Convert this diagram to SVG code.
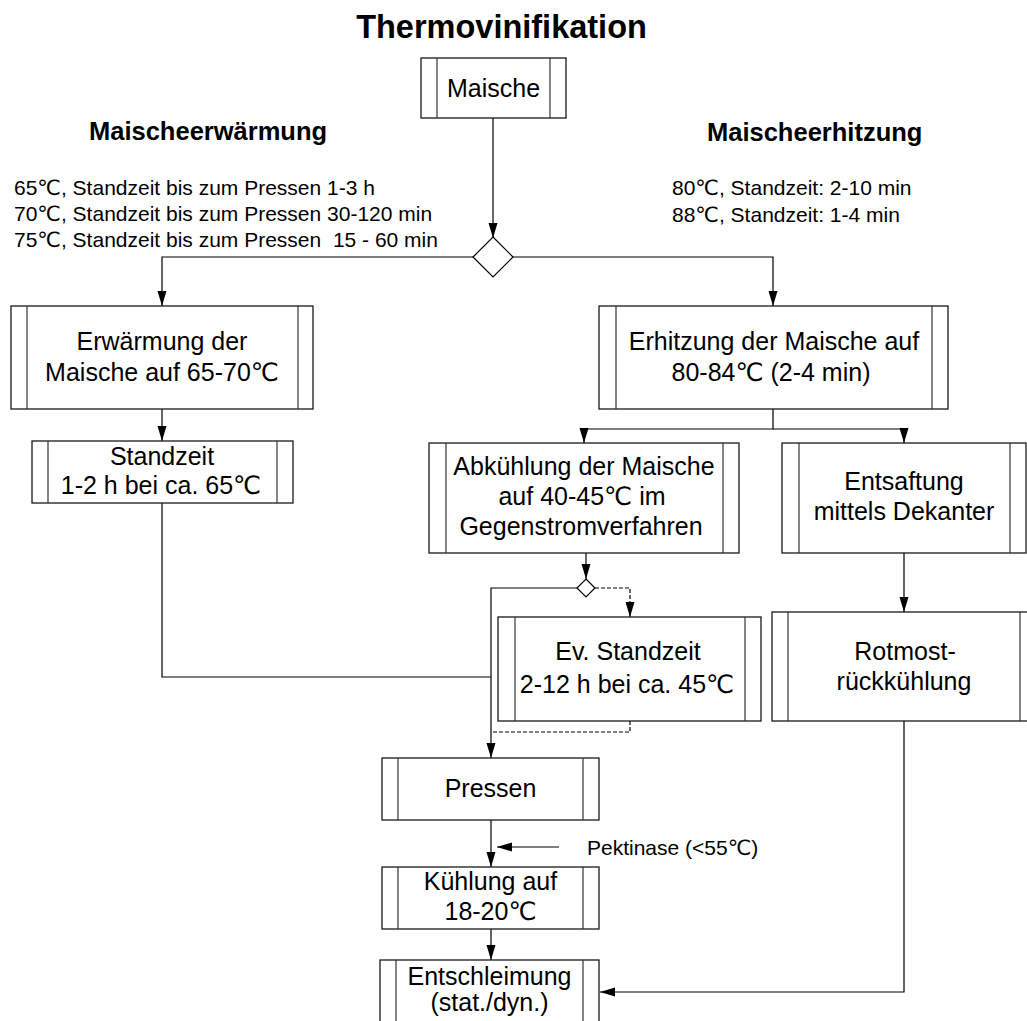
<svg xmlns="http://www.w3.org/2000/svg" width="1027" height="1021" viewBox="0 0 1027 1021">
<style>
.bx rect{fill:#fff;stroke:#1a1a1a;stroke-width:1.3}
.bx line{stroke:#333;stroke-width:1.2}
.dm{fill:#fff;stroke:#000;stroke-width:1.2}
text{font-family:"Liberation Sans",Arial,"DejaVu Sans",sans-serif;fill:#000}
.t{font-size:25px;text-anchor:middle}
.s{font-size:21px}
.h{font-size:25.5px;font-weight:bold}
.c{fill:none;stroke:#000;stroke-width:1.2}
.d{stroke-dasharray:4,2}
</style>
<defs>
<marker id="arr" markerWidth="15" markerHeight="10" refX="15" refY="5" orient="auto" markerUnits="userSpaceOnUse">
<path d="M0,0.5 L15,5 L0,9.5 z" fill="#000"/>
</marker>
</defs>

<text x="501.5" y="38" text-anchor="middle" style="font-size:32.5px;font-weight:bold">Thermovinifikation</text>
<text class="h" x="89" y="140">Maischeerwärmung</text>
<text class="h" x="707" y="141">Maischeerhitzung</text>
<text class="s" x="14" y="195">65℃, Standzeit bis zum Pressen 1-3 h</text>
<text class="s" x="14" y="221">70℃, Standzeit bis zum Pressen 30-120 min</text>
<text class="s" x="14" y="247" style="white-space:pre">75℃, Standzeit bis zum Pressen  15 - 60 min</text>
<text class="s" x="672" y="195">80℃, Standzeit: 2-10 min</text>
<text class="s" x="672" y="222">88℃, Standzeit: 1-4 min</text>
<text class="s" x="587" y="855">Pektinase (&lt;55℃)</text>

<g id="connectors">
<path class="c" d="M493,118 V238" marker-end="url(#arr)"/>
<path class="c" d="M474,257 H162 V306" marker-end="url(#arr)"/>
<path class="c" d="M513,257 H773 V306" marker-end="url(#arr)"/>
<path class="c" d="M162,409 V441" marker-end="url(#arr)"/>
<path class="c" d="M773,409 V429 H584 V443" marker-end="url(#arr)"/>
<path class="c" d="M773,429 H904 V443" marker-end="url(#arr)"/>
<path class="c" d="M586,553 V579" marker-end="url(#arr)"/>
<path class="c" d="M577,588 H491 V758" marker-end="url(#arr)"/>
<path class="c d" d="M595,588 H630 V617" marker-end="url(#arr)"/>
<path class="c d" d="M630,721 V732 H491"/>
<path class="c" d="M162,503 V677 H491"/>
<path class="c" d="M904,553 V612" marker-end="url(#arr)"/>
<path class="c" d="M904,721 V992 H600" marker-end="url(#arr)"/>
<path class="c" d="M491,820 V867" marker-end="url(#arr)"/>
<path class="c" d="M559,847 H497" marker-end="url(#arr)"/>
<path class="c" d="M491,929 V960" marker-end="url(#arr)"/>
</g>

<polygon id="decision1" class="dm" points="493,237 513,257 493,277 473,257"/>
<polygon id="decision2" class="dm" points="586,579 595,588 586,597 577,588"/>

<g id="maische" class="bx">
<rect x="421" y="58" width="145" height="60"/>
<line x1="437" y1="58" x2="437" y2="118"/><line x1="550" y1="58" x2="550" y2="118"/>
<text class="t" x="493.5" y="97">Maische</text>
</g>

<g id="erwaermung" class="bx">
<rect x="11" y="306" width="302" height="103"/>
<line x1="27" y1="306" x2="27" y2="409"/><line x1="298" y1="306" x2="298" y2="409"/>
<text class="t" x="162" y="350">Erwärmung der</text>
<text class="t" x="162" y="381">Maische auf 65-70℃</text>
</g>

<g id="standzeit" class="bx">
<rect x="32" y="441" width="261" height="62"/>
<line x1="48" y1="441" x2="48" y2="503"/><line x1="277" y1="441" x2="277" y2="503"/>
<text class="t" x="162" y="465">Standzeit</text>
<text class="t" x="161" y="494">1-2 h bei ca. 65℃</text>
</g>

<g id="erhitzung" class="bx">
<rect x="599" y="306" width="349" height="103"/>
<line x1="616" y1="306" x2="616" y2="409"/><line x1="932" y1="306" x2="932" y2="409"/>
<text class="t" x="774" y="350">Erhitzung der Maische auf</text>
<text class="t" x="771" y="381">80-84℃ (2-4 min)</text>
</g>

<g id="abkuehlung" class="bx">
<rect x="429" y="443" width="310" height="110"/>
<line x1="446" y1="443" x2="446" y2="553"/><line x1="723" y1="443" x2="723" y2="553"/>
<text class="t" x="584" y="475">Abkühlung der Maische</text>
<text class="t" x="582" y="505">auf 40-45℃ im</text>
<text class="t" x="581" y="535">Gegenstromverfahren</text>
</g>

<g id="entsaftung" class="bx">
<rect x="782" y="443" width="244" height="110"/>
<line x1="799" y1="443" x2="799" y2="553"/><line x1="1010" y1="443" x2="1010" y2="553"/>
<text class="t" x="904" y="490">Entsaftung</text>
<text class="t" x="904" y="520">mittels Dekanter</text>
</g>

<g id="evstandzeit" class="bx">
<rect x="498" y="617" width="263" height="104"/>
<line x1="515" y1="617" x2="515" y2="721"/><line x1="745" y1="617" x2="745" y2="721"/>
<text class="t" x="628" y="660">Ev. Standzeit</text>
<text class="t" x="627" y="693">2-12 h bei ca. 45℃</text>
</g>

<g id="rotmost" class="bx">
<rect x="772" y="612" width="264" height="109"/>
<line x1="788" y1="612" x2="788" y2="721"/><line x1="1020" y1="612" x2="1020" y2="721"/>
<text class="t" x="905" y="660">Rotmost-</text>
<text class="t" x="904" y="690">rückkühlung</text>
</g>

<g id="pressen" class="bx">
<rect x="382" y="758" width="217" height="62"/>
<line x1="398" y1="758" x2="398" y2="820"/><line x1="583" y1="758" x2="583" y2="820"/>
<text class="t" x="490.5" y="797">Pressen</text>
</g>

<g id="kuehlung" class="bx">
<rect x="382" y="867" width="217" height="62"/>
<line x1="398" y1="867" x2="398" y2="929"/><line x1="583" y1="867" x2="583" y2="929"/>
<text class="t" x="490.5" y="890">Kühlung auf</text>
<text class="t" x="490.5" y="920">18-20℃</text>
</g>

<g id="entschleimung" class="bx">
<rect x="380" y="960" width="219" height="80"/>
<line x1="396" y1="960" x2="396" y2="1040"/><line x1="583" y1="960" x2="583" y2="1040"/>
<text class="t" x="489.5" y="985">Entschleimung</text>
<text class="t" x="489.5" y="1011">(stat./dyn.)</text>
</g>
</svg>
